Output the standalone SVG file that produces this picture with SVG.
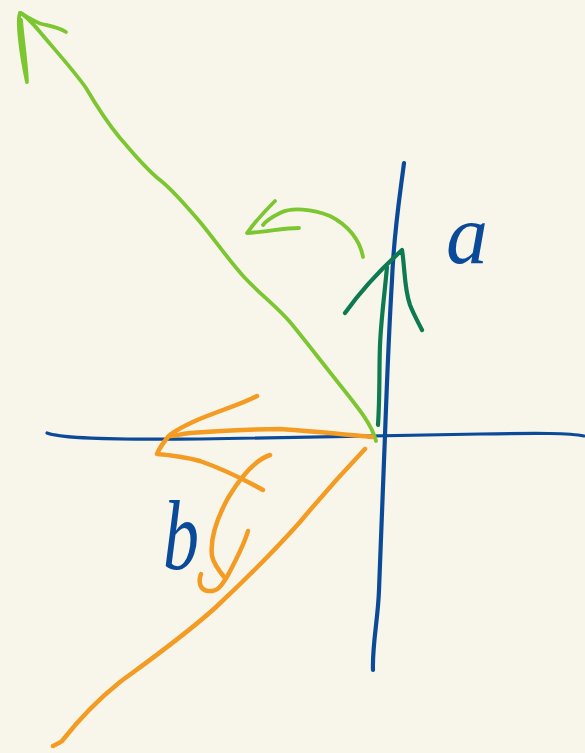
<svg xmlns="http://www.w3.org/2000/svg" width="585" height="753" viewBox="0 0 585 753">
<style>
.s{fill:none;stroke-linecap:round;stroke-linejoin:round}
.blue{stroke:#0b4a99}
.lg{stroke:#7cc631;stroke-width:3.8}
.dg{stroke:#0e7a52;stroke-width:4.2}
.or{stroke:#f39b22;stroke-width:4.5}
.lbl{font-family:"Liberation Serif",serif;font-style:italic;fill:#0b4a99}
</style>
<rect width="585" height="753" fill="#f8f6ea"/>
<g id="axes">
<path class="s blue" stroke-width="4.2" d="M404,163 C400,195 394,230 392,280 C389,330 387,380 385,435 C382,500 380,560 379,590 C378,620 372,645 373,670"/>
<path class="s blue" stroke-width="3.2" d="M47,433 C60,438 100,440 200,439 C300,438 400,436 480,434 C540,433 570,433 584,436"/>
</g>
<g id="green-long-arrow">
<path class="s lg" d="M376,441 C372,425 360,410 340,385 C320,360 305,340 290,322 C275,305 262,296 245,278 C230,262 215,240 200,222 C185,205 175,192 160,180 C145,168 135,155 120,138 C105,120 96,105 86,88 C75,72 55,50 40,32 C30,20 22,13 20,13"/>
<path class="s lg" d="M66,32 C58,27 50,26 42,24 C35,22 28,17 20,13 C17,20 20,50 27,82 C26,60 22,35 21,20"/>
</g>
<g id="green-curved-arrow">
<path class="s lg" d="M363,257 C360,240 348,225 330,216 C312,209 292,207 280,213 C272,217 266,221 263,225"/>
<path class="s lg" d="M275,201 C266,210 255,222 247,233 C265,232 285,228 299,228"/>
</g>
<g id="darkgreen-arrow">
<path class="s dg" d="M345,313 C360,292 380,270 402,250 C405,268 404,288 410,305 C414,315 418,322 422,330"/>
<path class="s dg" d="M387,267 C385,290 381,320 380,345 C379,370 380,395 378,425"/>
</g>
<g id="orange-arrow">
<path class="s or" d="M372,437 C340,434 310,431 280,429 C250,429 220,431 190,433 C180,434 175,436 170,436"/>
<path class="s or" d="M257,396 C240,405 215,412 195,421 C182,427 172,432 168,437 C163,443 159,449 157,454 C170,455 185,457 200,461 C220,468 245,480 263,490"/>
</g>
<g id="orange-hook">
<path class="s or" d="M270,455 C255,460 240,478 228,498 C216,520 210,540 212,556 C214,565 220,572 225,578"/>
<path class="s or" d="M248,531 C244,545 236,560 228,575 C222,585 218,592 208,591 C200,590 198,582 201,574"/>
</g>
<g id="orange-line">
<path class="s or" d="M365,449 C345,470 325,492 300,522 C275,550 245,580 215,608 C185,635 150,660 120,682 C100,698 80,718 62,741 C58,744 55,745 53,746"/>
</g>
<g id="label-a"><text class="lbl" x="446" y="263" font-size="84">a</text></g>
<g id="label-b"><text class="lbl" x="163" y="569" font-size="100" textLength="36" lengthAdjust="spacingAndGlyphs">b</text></g>
</svg>
